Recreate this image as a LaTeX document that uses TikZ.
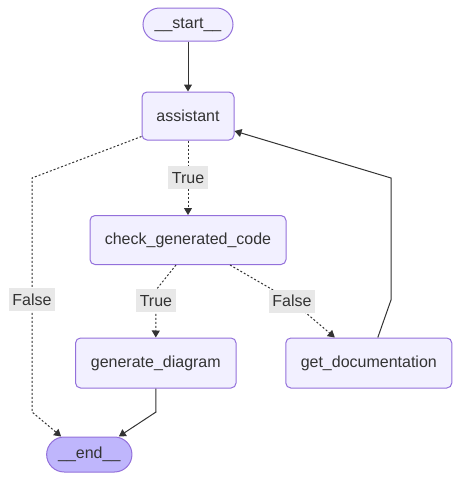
\documentclass[tikz,border=0pt]{standalone}
\usepackage{fontspec}
\setmainfont{Liberation Sans}
\usetikzlibrary{arrows.meta}
\definecolor{nodefill}{HTML}{F2F0FF}
\definecolor{nodeline}{HTML}{9370DB}
\definecolor{endfill}{HTML}{BFB6FC}
\definecolor{edgec}{HTML}{333333}
\definecolor{lblbg}{HTML}{E8E8E8}
\begin{document}
\begin{tikzpicture}[x=1pt,y=-1pt,
  basebox/.style={draw=nodeline, fill=nodefill, line width=1pt, text=edgec,
    font=\fontsize{16}{19}\selectfont, inner sep=0pt, anchor=center},
  box/.style={basebox, rounded corners=5pt},
  pill/.style={basebox, rounded corners=16.5pt},
  lbl/.style={fill=lblbg, text=edgec, font=\fontsize{16}{19}\selectfont,
    inner xsep=3.5pt, inner ysep=0pt, minimum height=23pt},
  edgebase/.style={draw=edgec, line width=1pt, -{Triangle[length=7pt,width=8pt]}},
  solidedge/.style={edgebase},
  dotedge/.style={edgebase, dash pattern=on 2pt off 2pt}
]
\useasboundingbox (0,0) rectangle (460,480);

\node[pill, minimum width=90pt, minimum height=33pt] (start) at (188,24.5) {\_\_start\_\_};
\node[box, minimum width=92pt, minimum height=48pt] (assistant) at (188,116) {assistant};
\node[box, minimum width=196pt, minimum height=49pt] (check) at (188,240) {check\_generated\_code};
\node[box, minimum width=160.5pt, minimum height=50pt] (generate) at (155.8,363) {generate\_diagram};
\node[box, minimum width=166pt, minimum height=50pt] (getdoc) at (368.8,363) {get\_documentation};
\node[pill, fill=endfill, minimum width=85.3pt, minimum height=35pt, rounded corners=17.5pt] (end) at (89.3,454.5) {\_\_end\_\_};

\coordinate (a1) at (32,178);
\coordinate (a2) at (32,412);
\coordinate (c1) at (156,290);
\coordinate (c2) at (292,301);
\coordinate (g1) at (391,300);
\coordinate (g2) at (391,178);
\coordinate (e1) at (156,412);

\draw[solidedge] (start) -- (assistant);
\draw[dotedge] (assistant) -- node[lbl] {True} (check);
\draw[dotedge] ([yshift=4pt]assistant.south west) -- (a1) -- node[lbl, pos=0.52] {False} (a2) -- ([xshift=15pt]end.north west);
\draw[dotedge] ([xshift=-12pt]check.south) -- (c1) -- node[lbl, pos=0.23] {True} (generate.north);
\draw[dotedge] ([xshift=42pt]check.south) -- (c2) node[lbl] {False} -- ([xshift=-34pt]getdoc.north);
\draw[solidedge] ([xshift=9pt]getdoc.north) -- (g1) -- (g2) -- ([yshift=-15pt]assistant.east);
\draw[solidedge] (generate.south) -- (e1) -- ([xshift=29.5pt]end.north);
\end{tikzpicture}
\end{document}
